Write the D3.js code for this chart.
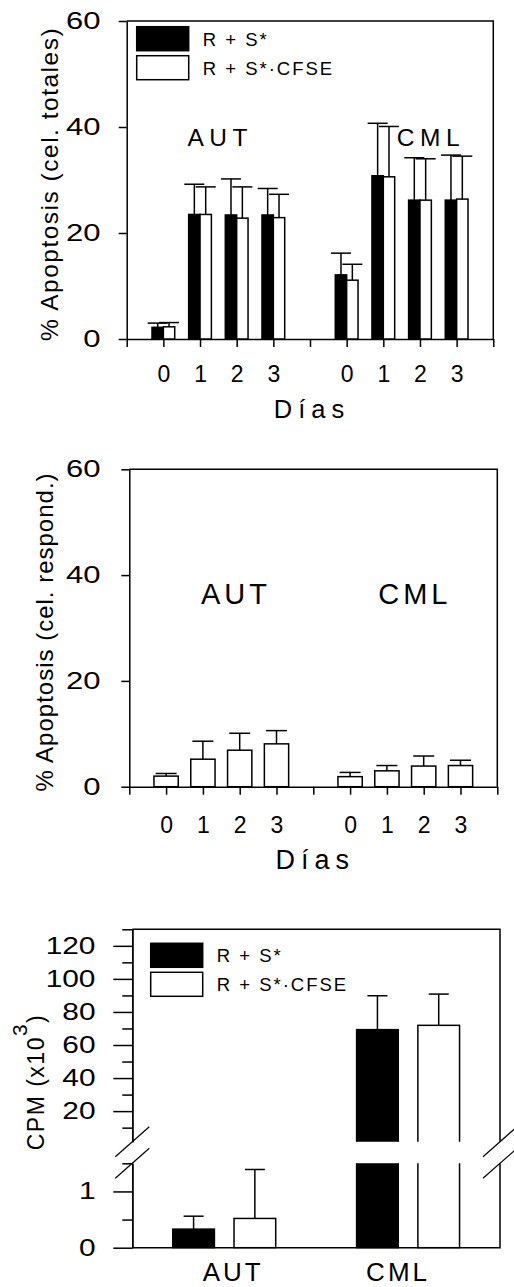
<!DOCTYPE html>
<html>
<head>
<meta charset="utf-8">
<script src="https://cdn.jsdelivr.net/npm/d3@7"></script>
<style>
  body { margin: 0; background: #fff; }
  svg text { font-family: "Liberation Sans", Arial, sans-serif; fill: #000; }
</style>
</head>
<body>
<div id="chart"></div>
<script>
var days = ["0", "1", "2", "3"];
var groups = ["AUT", "CML"];
var seriesNames = ["R + S*", "R + S*\u00B7CFSE"];

// % apoptosis, total cells (AUT days 0-3, then CML days 0-3)
var totalRS = [2.2, 23.5, 23.4, 23.4, 12.1, 30.8, 26.2, 26.2];
var totalRSErr = [0.8, 5.7, 6.8, 5.0, 4.1, 9.9, 8.0, 8.5];
var totalCFSE = [2.3, 23.5, 22.8, 22.9, 11.1, 30.6, 26.2, 26.4];
var totalCFSEErr = [0.8, 5.2, 5.9, 4.4, 3.0, 9.5, 7.8, 8.1];

// % apoptosis, responding cells
var respCFSE = [2.0, 5.2, 6.9, 8.1, 1.9, 3.0, 3.9, 4.0];
var respCFSEErr = [0.5, 3.4, 3.2, 2.5, 0.8, 1.0, 1.9, 1.0];

// CPM (x10^3), AUT then CML
var cpmRS = [0.33, 69.3];
var cpmRSErr = [0.23, 20.5];
var cpmCFSE = [0.52, 71.9];
var cpmCFSEErr = [0.87, 18.9];

var yTicks = [0, 20, 40, 60];
var cpmMajorHigh = [20, 40, 60, 80, 100, 120];
var cpmMinorHigh = [10, 30, 50, 70, 90, 110, 130];
var cpmMajorLow = [0, 1];
var cpmMinorLow = [0.5, 1.5];

var svg = d3.select("#chart").append("svg")
    .attr("width", 514)
    .attr("height", 1287);

var lw = 1.5;

function styleAxis(g, size, ls) {
  g.select(".domain").attr("stroke", "#000").attr("stroke-width", lw);
  g.selectAll(".tick line").attr("stroke", "#000").attr("stroke-width", lw);
  g.selectAll(".tick text")
    .attr("font-size", size)
    .attr("letter-spacing", ls)
    .attr("font-family", "Liberation Sans, Arial, sans-serif");
}

// y tick labels in the original are drawn wide: stretch them horizontally
function widenLabels(g, gap, sx) {
  g.selectAll(".tick text")
    .attr("x", -gap / sx)
    .attr("transform", "scale(" + sx + ",1)");
}

function legend(x0, y0) {
  var lg = svg.append("g");
  [["#000", seriesNames[0]], ["#fff", seriesNames[1]]].forEach(function(d, i) {
    lg.append("rect")
      .attr("x", x0).attr("y", y0 + i * 29)
      .attr("width", 52).attr("height", 24)
      .attr("fill", d[0]).attr("stroke", "#000").attr("stroke-width", lw);
    lg.append("text")
      .attr("x", x0 + 66).attr("y", y0 + i * 29 + 19)
      .attr("font-size", 18.5).attr("letter-spacing", 2)
      .text(d[1]);
  });
}

function errBar(g, cx, y0, y1, half) {
  g.append("line").attr("x1", cx).attr("x2", cx).attr("y1", y0).attr("y2", y1)
    .attr("stroke", "#000").attr("stroke-width", lw);
  g.append("line").attr("x1", cx - half).attr("x2", cx + half).attr("y1", y1).attr("y2", y1)
    .attr("stroke", "#000").attr("stroke-width", lw);
}

// panels with days on the x axis
function dayPanel(p) {
  var x = d3.scaleLinear().domain([0, 10]).range([p.x0, p.x1]);
  var y = d3.scaleLinear().domain([0, 60]).range([p.y1, p.y0]);
  var g = svg.append("g");

  // frame top + right
  g.append("path")
    .attr("d", "M" + x(0) + "," + y(60) + "H" + x(10) + "V" + y(0))
    .attr("fill", "none").attr("stroke", "#000").attr("stroke-width", lw);

  var ya = g.append("g").attr("transform", "translate(" + x(0) + ",0)")
    .call(d3.axisLeft(y).tickValues(yTicks).tickSize(8).tickSizeOuter(0));
  styleAxis(ya, 23, 0);
  widenLabels(ya, p.x0 - 100.5, 1.35);

  var xa = g.append("g").attr("transform", "translate(0," + y(0) + ")")
    .call(d3.axisBottom(x).tickValues(d3.range(0, 11)).tickSize(8).tickSizeOuter(0).tickPadding(p.xPad)
      .tickFormat(function(v) { return (v % 5 == 0) ? "" : days[(v % 5) - 1]; }));
  styleAxis(xa, 23, 0);

  p.series.forEach(function(s) {
    s.vals.forEach(function(v, i) {
      var pos = Math.floor(i / 4) * 5 + (i % 4) + 1;
      var bx0 = x(pos + s.from), bx1 = x(pos + s.to);
      g.append("rect")
        .attr("x", bx0).attr("y", y(v))
        .attr("width", bx1 - bx0).attr("height", y(0) - y(v))
        .attr("fill", s.fill).attr("stroke", "#000").attr("stroke-width", lw);
      errBar(g, (bx0 + bx1) / 2, y(v), y(v + s.errs[i]), p.cap);
    });
  });

  groups.forEach(function(name, i) {
    g.append("text")
      .attr("x", x(p.groupAt[i])).attr("y", y(p.groupY))
      .attr("text-anchor", "middle")
      .attr("font-size", p.groupSize).attr("letter-spacing", p.groupLs)
      .text(name);
  });

  g.append("text")
    .attr("x", x(5) + 2).attr("y", p.xLabelY)
    .attr("text-anchor", "middle")
    .attr("font-size", p.xLabelSize).attr("letter-spacing", 6)
    .text("D\u00EDas");

  g.append("text")
    .attr("transform", "translate(" + p.yLabelX + "," + ((y(0) + y(60)) / 2 + 4) + ") rotate(-90)")
    .attr("text-anchor", "middle")
    .attr("font-size", p.yLabelSize).attr("letter-spacing", p.yLabelLs)
    .text(p.yLabel);
}

dayPanel({
  x0: 126.7, x1: 493.3, y0: 21, y1: 339,
  series: [
    { vals: totalRS, errs: totalRSErr, fill: "#000", from: -0.31, to: 0 },
    { vals: totalCFSE, errs: totalCFSEErr, fill: "#fff", from: 0, to: 0.31 }
  ],
  cap: 10, xPad: 19,
  groupAt: [2.55, 8.3], groupY: 36.5, groupSize: 24.5, groupLs: 5.5,
  xLabelY: 418, xLabelSize: 25.5,
  yLabel: "% Apoptosis (cel. totales)", yLabelX: 57.5, yLabelSize: 24.5, yLabelLs: 1.5
});
legend(136.7, 26.7);

dayPanel({
  x0: 129.3, x1: 497.3, y0: 469.3, y1: 786.7,
  series: [
    { vals: respCFSE, errs: respCFSEErr, fill: "#fff", from: -0.33, to: 0.33 }
  ],
  cap: 10.5, xPad: 22,
  groupAt: [2.9, 7.76], groupY: 34.6, groupSize: 29, groupLs: 4,
  xLabelY: 869, xLabelSize: 27,
  yLabel: "% Apoptosis (cel. respond.)", yLabelX: 52.5, yLabelSize: 24, yLabelLs: 1
});

// CPM panel with broken y axis
(function() {
  var x = d3.scaleLinear().domain([0, 6]).range([132.3, 500]);
  var yLow = d3.scaleLinear().domain([0, 1.5]).range([1247.7, 1163.3]);
  var yHigh = d3.scaleLinear().domain([1.5, 130]).range([1141.7, 929.3]);
  var g = svg.append("g");

  // top line, right side segments, bottom line
  g.append("path")
    .attr("d", "M" + x(0) + "," + yHigh(130) + "H" + x(6) + "V" + yHigh(1.5)
      + "M" + x(6) + "," + yLow(1.5) + "V" + yLow(0) + "H" + x(0))
    .attr("fill", "none").attr("stroke", "#000").attr("stroke-width", lw);

  var segs = [
    { y: yHigh, lo: 1.5, hi: 130, major: cpmMajorHigh, minor: cpmMinorHigh, id: "clipHigh" },
    { y: yLow, lo: 0, hi: 1.5, major: cpmMajorLow, minor: cpmMinorLow, id: "clipLow" }
  ];

  segs.forEach(function(s) {
    var a1 = g.append("g").attr("transform", "translate(" + x(0) + ",0)")
      .call(d3.axisLeft(s.y).tickValues(s.major).tickSize(19).tickSizeOuter(0)
        .tickFormat(d3.format("~g")));
    styleAxis(a1, 23, 0);
    widenLabels(a1, x(0) - 95.5, 1.3);
    var a2 = g.append("g").attr("transform", "translate(" + x(0) + ",0)")
      .call(d3.axisLeft(s.y).tickValues(s.minor).tickSize(10).tickSizeOuter(0).tickFormat(""));
    styleAxis(a2, 23, 0);

    svg.append("clipPath").attr("id", s.id).append("rect")
      .attr("x", x(0)).attr("y", s.y(s.hi))
      .attr("width", x(6) - x(0)).attr("height", s.y(s.lo) - s.y(s.hi) + (s.lo == 0 ? 1 : 0));
  });

  var bars = [
    { vals: cpmRS, errs: cpmRSErr, fill: "#000", shift: 0 },
    { vals: cpmCFSE, errs: cpmCFSEErr, fill: "#fff", shift: 1 }
  ];

  segs.forEach(function(s) {
    var cg = g.append("g").attr("clip-path", "url(#" + s.id + ")");
    bars.forEach(function(b) {
      b.vals.forEach(function(v, i) {
        if (v <= s.lo) return;
        var pos = i * 3 + b.shift + 1;
        var top = v > s.hi ? s.y(s.hi) - 6 : s.y(v);
        var bot = s.lo == 0 ? s.y(0) : s.y(s.lo) + 6;
        cg.append("rect")
          .attr("x", x(pos - 0.34)).attr("y", top)
          .attr("width", x(pos + 0.34) - x(pos - 0.34)).attr("height", bot - top)
          .attr("fill", b.fill).attr("stroke", "#000").attr("stroke-width", lw);
      });
    });
  });

  bars.forEach(function(b) {
    b.vals.forEach(function(v, i) {
      var pos = i * 3 + b.shift + 1;
      var e = v + b.errs[i];
      var sc = e > 1.5 ? yHigh : yLow;
      errBar(g, x(pos), sc(Math.max(v, sc.domain()[0])), sc(e), 10);
    });
  });

  // break marks
  [x(0), x(6)].forEach(function(bx) {
    [yHigh(1.5), yLow(1.5)].forEach(function(by) {
      g.append("line")
        .attr("x1", bx - 17).attr("y1", by + 15)
        .attr("x2", bx + 17).attr("y2", by - 15)
        .attr("stroke", "#000").attr("stroke-width", 1.2);
    });
  });

  groups.forEach(function(name, i) {
    g.append("text")
      .attr("x", x(i * 3 + 1.5) + (i == 0 ? 9 : -10)).attr("y", 1281)
      .attr("text-anchor", "middle")
      .attr("font-size", 26).attr("letter-spacing", 3)
      .text(name);
  });

  var yl = g.append("text")
    .attr("transform", "translate(43.5,1082) rotate(-90)")
    .attr("text-anchor", "middle")
    .attr("font-size", 23).attr("letter-spacing", 1.5);
  yl.append("tspan").text("CPM (x10");
  yl.append("tspan").attr("dy", -17).attr("font-size", 21).text("3");
  yl.append("tspan").attr("dy", 17).text(")");
})();
legend(150.7, 943.3);
</script>
</body>
</html>
